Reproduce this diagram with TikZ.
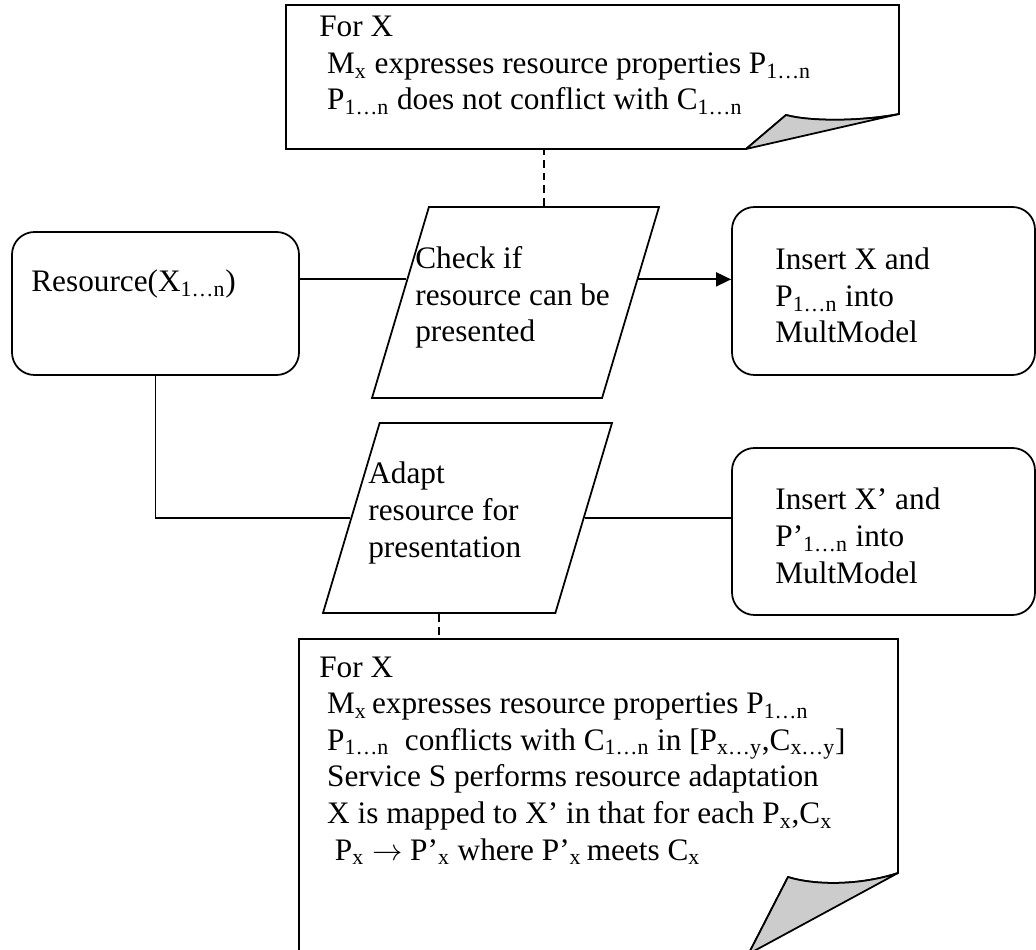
\documentclass[tikz,border=0pt]{standalone}
\usepackage{fontspec}
\setmainfont{Liberation Serif}
\usetikzlibrary{arrows.meta, shapes.geometric, calc}
\definecolor{foldgray}{HTML}{CCCCCC}
\definecolor{darkline}{HTML}{000000}
\newcommand{\idx}[1]{\textsubscript{#1}}
\tikzset{
  box/.style={
    rectangle,
    rounded corners=0.45cm,
    draw=darkline,
    line width=1pt,
    inner sep=0pt
  },
  para/.style={
    trapezium,
    trapezium left angle=73.4,
    trapezium right angle=106.6,
    trapezium stretches body,
    text depth=0pt,
    draw=darkline,
    line width=1pt,
    inner sep=0pt
  },
  txt/.style={anchor=base west, align=left, inner sep=0pt, font=\fontsize{17.8pt}{20.8pt}\selectfont},
  note/.style={draw=darkline, line width=1pt},
  fold/.style={draw=darkline, fill=foldgray, line width=1pt, line join=round},
  link/.style={draw=darkline, line width=1pt},
  flow/.style={-{Triangle[length=3mm, width=2.8mm]}, line width=1pt, draw=darkline},
  tie/.style={dash pattern=on 4.5pt off 2.8pt, darkline, line width=1pt}
}

\begin{document}
\begin{tikzpicture}
\useasboundingbox (0,0) rectangle (20.72,18.98);

% Top note.
\coordinate (topnotebase) at (5.72,16.00);
\draw[note] (topnotebase) -- (5.72,18.88) -- (17.98,18.88) -- (17.98,16.70)
  .. controls (17.2,16.55) and (16.2,16.55) .. (15.72,16.68) -- (14.92,16.00) -- cycle;
\draw[fold] (14.92,16.00) -- (15.72,16.68) .. controls (16.2,16.55) and (17.2,16.55) .. (17.98,16.70) -- cycle;
\node[txt] (toptext) at (6.38,16.78) {For X\\
  \hspace*{0.25em}M\idx{x} expresses resource properties P\idx{1…n}\\
  \hspace*{0.25em}P\idx{1…n} does not conflict with C\idx{1…n}};

% Shapes.
\node[box, minimum width=5.74cm, minimum height=2.86cm] (resource) at (3.11,12.91) {};
\node[para, text height=3.82cm, minimum width=5.74cm] (check) at (10.31,12.93) {};
\node[box, minimum width=6.06cm, minimum height=3.36cm] (insertx) at (17.67,13.16) {};
\node[para, text height=3.80cm, minimum width=5.78cm] (adapt) at (9.35,8.62) {};
\node[box, minimum width=6.06cm, minimum height=3.34cm] (insertxp) at (17.67,8.35) {};

% Texts.
\node[txt] (resourcetext) at (0.62,13.14) {Resource(X\idx{1…n})};
\node[txt] (checktext) at (8.30,12.14) {Check if\\resource can be\\presented};
\node[txt] (inserttext) at (15.50,12.12) {Insert X and\\P\idx{1…n} into\\MultModel};
\node[txt] (adapttext) at (7.36,7.84) {Adapt\\resource for\\presentation};
\node[txt] (insertptext) at (15.50,7.32) {Insert X’ and\\P’\idx{1…n} into\\MultModel};

% Bottom note.
\coordinate (lownotetop) at (5.98,6.20);
\draw[note] (5.98,-0.1) -- (lownotetop) -- (17.96,6.20) -- (17.96,1.52)
  .. controls (17.2,1.27) and (16.3,1.27) .. (15.76,1.44) -- (14.97,-0.1) -- cycle;
\draw[fold] (14.97,-0.1) -- (15.76,1.44) .. controls (16.3,1.27) and (17.2,1.27) .. (17.96,1.52) -- cycle;
\node[txt] (lowtext) at (6.38,1.78) {For X\\
  \hspace*{0.25em}M\idx{x}\,expresses resource properties P\idx{1…n}\\
  \hspace*{0.25em}P\idx{1…n}\ \ conflicts with C\idx{1…n} in [P\idx{x…y},C\idx{x…y}]\\
  \hspace*{0.25em}Service S performs resource adaptation\\
  \hspace*{0.25em}X is mapped to X’ in that for each P\idx{x},C\idx{x}\\
  \hspace*{0.5em}P\idx{x} \(\rightarrow\) P’\idx{x} where P’\idx{x}\,meets C\idx{x}};

% Main flow.
\coordinate (checkin) at ($(check.top left corner)!0.38!(check.bottom left corner)$);
\coordinate (checkout) at ($(check.top right corner)!0.38!(check.bottom right corner)$);
\draw[link] (resource.east |- checkin) -- (checkin);
\draw[flow] (checkout) -- (checkout -| insertx.west);
\draw[link] (resource.south) |- (adapt.left side);
\draw[link] (adapt.right side) -- (adapt.right side -| insertxp.west);

% Note ties.
\draw[tie] (check.top side) -- (check.top side |- topnotebase);
\draw[tie] (adapt.bottom side) -- (adapt.bottom side |- lownotetop);

\end{tikzpicture}
\end{document}
